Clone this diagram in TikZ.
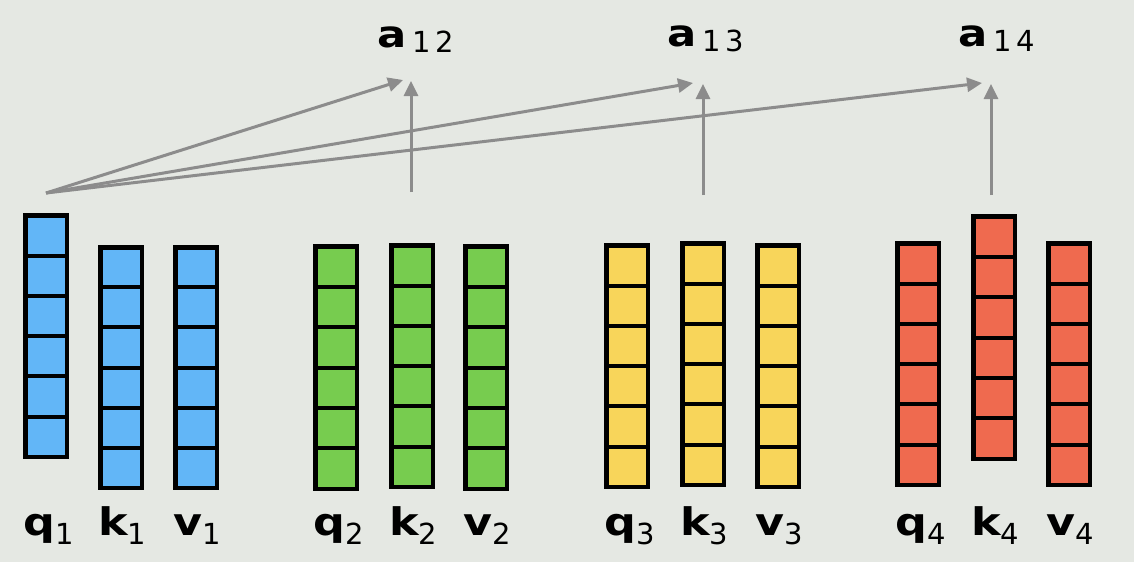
\documentclass[tikz,border=0pt]{standalone}
\usepackage{fontspec}
\setmainfont{DejaVu Sans}
\usetikzlibrary{calc,arrows.meta}
\definecolor{bg}{HTML}{E5E8E3}
\definecolor{cblue}{HTML}{62B6F7}
\definecolor{cgreen}{HTML}{77CC4F}
\definecolor{cyellow}{HTML}{F8D55A}
\definecolor{cred}{HTML}{EF6A4F}
\definecolor{arr}{HTML}{8C8C8C}
\tikzset{
  colbox/.style={draw=black, line width=4.5pt, rectangle, inner sep=0pt, outer sep=0pt, minimum width=41.5pt, anchor=north west},
  cellline/.style={draw=black, line width=4pt},
  lab/.style={inner sep=0pt, anchor=base west, font=\fontsize{38}{38}\selectfont\bfseries},
  alab/.style={inner sep=0pt, anchor=base west, font=\fontsize{37}{37}\selectfont\bfseries},
  conn/.style={draw=arr, line width=3pt, -{Triangle[length=15pt,width=14pt]}},
}
\newcommand\mydig[2]{\raisebox{#1}{\fontsize{29}{29}\selectfont\mdseries #2}}
\newcommand\wl[1]{\scalebox{1.17}[1]{#1}}
\newcommand\vcol[5]{%
  \node[colbox, fill=#5, minimum height={(#4-#3-4.5)*1pt}] (#1) at (#2+2.25,#3+2.25) {};
  \foreach \i in {1,...,5}
    \draw[cellline] ($(#1.north west)!\i/6!(#1.south west)$) -- ($(#1.north east)!\i/6!(#1.south east)$);
}
\begin{document}
\begin{tikzpicture}[x=1pt,y=-1pt]
\fill[bg] (0,0) rectangle (1134,562);
\useasboundingbox (0,0) rectangle (1134,562);
% columns
\vcol{q1}{23}{213}{459}{cblue}
\vcol{k1}{98}{245}{490}{cblue}
\vcol{v1}{173}{245}{490}{cblue}
\vcol{q2}{313}{244}{491}{cgreen}
\vcol{k2}{389}{243}{489}{cgreen}
\vcol{v2}{463}{244}{491}{cgreen}
\vcol{q3}{604}{243}{489}{cyellow}
\vcol{k3}{680}{241}{487}{cyellow}
\vcol{v3}{755}{243}{489}{cyellow}
\vcol{q4}{895}{241}{487}{cred}
\vcol{k4}{971}{214}{461}{cred}
\vcol{v4}{1046}{241}{487}{cred}
% labels
\node[lab] (lq1) at (23,535) {\wl{q}\mydig{-9pt}{1}};
\node[lab] (lk1) at (98,535) {\wl{k}\mydig{-9pt}{1}};
\node[lab] (lv1) at (173,535) {\wl{v}\mydig{-9pt}{1}};
\node[lab] (lq2) at (313,535) {\wl{q}\mydig{-9pt}{2}};
\node[lab] (lk2) at (389,535) {\wl{k}\mydig{-9pt}{2}};
\node[lab] (lv2) at (463,535) {\wl{v}\mydig{-9pt}{2}};
\node[lab] (lq3) at (604,535) {\wl{q}\mydig{-9pt}{3}};
\node[lab] (lk3) at (680,535) {\wl{k}\mydig{-9pt}{3}};
\node[lab] (lv3) at (755,535) {\wl{v}\mydig{-9pt}{3}};
\node[lab] (lq4) at (895,535) {\wl{q}\mydig{-9pt}{4}};
\node[lab] (lk4) at (971,535) {\wl{k}\mydig{-9pt}{4}};
\node[lab] (lv4) at (1046,535) {\wl{v}\mydig{-9pt}{4}};
% score labels
\node[alab] (a12) at (377,47) {\wl{a}\,\mydig{-5pt}{1\,2}};
\node[alab] (a13) at (667,46) {\wl{a}\,\mydig{-5pt}{1\,3}};
\node[alab] (a14) at (958,46) {\wl{a}\,\mydig{-5pt}{1\,4}};
% coordinates
\coordinate (src) at (46,193);
\coordinate (t12) at (403,80);
\coordinate (t13) at (693,83);
\coordinate (t14) at (982,83);
\coordinate (b12) at (411,192);
\coordinate (u12) at (411,81);
\coordinate (b13) at (703,195);
\coordinate (u13) at (703,84);
\coordinate (b14) at (991,195);
\coordinate (u14) at (991,84);
% arrows
\draw[conn] (src) -- (t12);
\draw[conn] (src) -- (t13);
\draw[conn] (src) -- (t14);
\draw[conn] (b12) -- (u12);
\draw[conn] (b13) -- (u13);
\draw[conn] (b14) -- (u14);
\end{tikzpicture}
\end{document}
